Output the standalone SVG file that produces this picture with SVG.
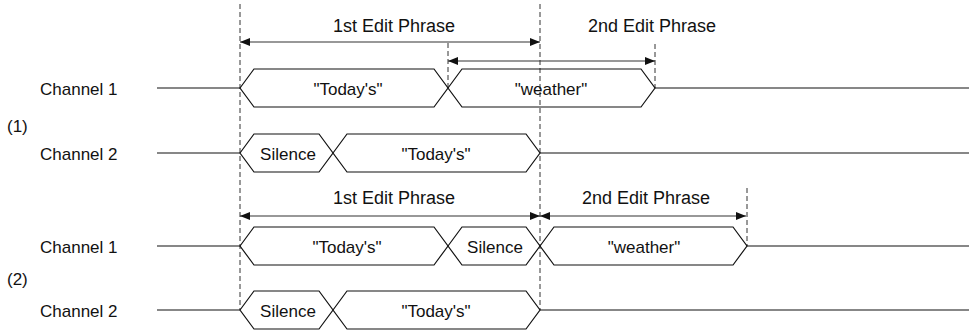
<svg xmlns="http://www.w3.org/2000/svg" width="969" height="330" viewBox="0 0 969 330">
<defs>
<style>
text{font-family:"Liberation Sans",Arial,sans-serif;font-size:17px;fill:#111}
.c{text-anchor:middle}
.t{font-size:18px}
.sig{fill:none;stroke:#111;stroke-width:1.2}
.dash{fill:none;stroke:#333;stroke-width:1;stroke-dasharray:5,3}
.arr{fill:none;stroke:#333;stroke-width:1.1;marker-start:url(#ah);marker-end:url(#ah)}
</style>
<marker id="ah" viewBox="0 0 10 8" refX="10" refY="4" markerWidth="10" markerHeight="8" markerUnits="userSpaceOnUse" orient="auto-start-reverse">
<path d="M0,0 L10,4 L0,8 Z" fill="#111"/>
</marker>
</defs>
<rect width="969" height="330" fill="#fff"/>

<g id="guides">
<line class="dash" x1="240" y1="4" x2="240" y2="310"/>
<line class="dash" x1="540" y1="4" x2="540" y2="310"/>
<line class="dash" x1="448" y1="43" x2="448" y2="88"/>
<line class="dash" x1="655" y1="44" x2="655" y2="88"/>
<line class="dash" x1="747" y1="188" x2="747" y2="246"/>
</g>

<g id="labels">
<text x="40" y="95">Channel 1</text>
<text x="7" y="132">(1)</text>
<text x="40" y="160">Channel 2</text>
<text x="40" y="253">Channel 1</text>
<text x="7" y="285">(2)</text>
<text x="40" y="317">Channel 2</text>
<text class="c t" x="394" y="32">1st Edit Phrase</text>
<text class="c t" x="652" y="32">2nd Edit Phrase</text>
<text class="c t" x="394" y="204">1st Edit Phrase</text>
<text class="c t" x="646" y="204">2nd Edit Phrase</text>
</g>

<g id="connectors">
<line class="arr" x1="240" y1="42" x2="540" y2="42"/>
<line class="arr" x1="448" y1="61" x2="655" y2="61"/>
<line class="arr" x1="240" y1="216" x2="540" y2="216"/>
<line class="arr" x1="540" y1="216" x2="746" y2="216"/>
</g>

<g id="lines">
<line class="sig" x1="157" y1="88" x2="240" y2="88"/>
<line class="sig" x1="655" y1="88" x2="969" y2="88"/>
<line class="sig" x1="157" y1="153" x2="240" y2="153"/>
<line class="sig" x1="540" y1="153" x2="969" y2="153"/>
<line class="sig" x1="157" y1="246" x2="240" y2="246"/>
<line class="sig" x1="747" y1="246" x2="969" y2="246"/>
<line class="sig" x1="157" y1="310" x2="240" y2="310"/>
<line class="sig" x1="540" y1="310" x2="969" y2="310"/>
</g>

<g id="s1-ch1-todays">
<polygon class="sig" points="240,88 254,69 434,69 448,88 434,107 254,107"/>
<text class="c" x="348" y="95">"Today's"</text>
</g>
<g id="s1-ch1-weather">
<polygon class="sig" points="448,88 462,69 641,69 655,88 641,107 462,107"/>
<text class="c" x="551" y="95">"weather"</text>
</g>
<g id="s1-ch2-silence">
<polygon class="sig" points="240,153 254,134 319,134 333,153 319,172 254,172"/>
<text class="c" x="288" y="160">Silence</text>
</g>
<g id="s1-ch2-todays">
<polygon class="sig" points="333,153 347,134 526,134 540,153 526,172 347,172"/>
<text class="c" x="436" y="160">"Today's"</text>
</g>

<g id="s2-ch1-todays">
<polygon class="sig" points="240,246 254,227 434,227 448,246 434,265 254,265"/>
<text class="c" x="347" y="253">"Today's"</text>
</g>
<g id="s2-ch1-silence">
<polygon class="sig" points="448,246 462,227 526,227 540,246 526,265 462,265"/>
<text class="c" x="495" y="253">Silence</text>
</g>
<g id="s2-ch1-weather">
<polygon class="sig" points="540,246 554,227 733,227 747,246 733,265 554,265"/>
<text class="c" x="644" y="253">"weather"</text>
</g>
<g id="s2-ch2-silence">
<polygon class="sig" points="240,310 254,291 319,291 333,310 319,329 254,329"/>
<text class="c" x="288" y="317">Silence</text>
</g>
<g id="s2-ch2-todays">
<polygon class="sig" points="333,310 347,291 526,291 540,310 526,329 347,329"/>
<text class="c" x="436" y="317">"Today's"</text>
</g>
</svg>
